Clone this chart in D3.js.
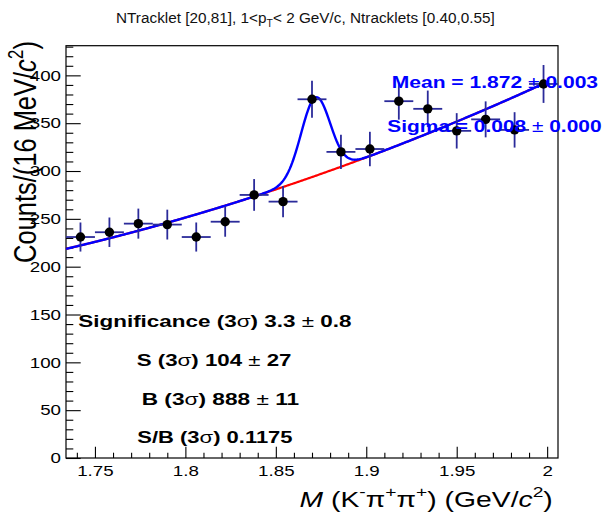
<!DOCTYPE html>
<html>
<head>
<meta charset="utf-8">
<script src="https://cdn.jsdelivr.net/npm/d3@7"></script>
<style>
  body { margin: 0; background: #fff; }
  svg { display: block; }
  text { font-family: "Liberation Sans", Arial, Helvetica, sans-serif; }
</style>
</head>
<body>
<svg id="chart" width="607" height="512"></svg>
<script>
// ---- data: invariant-mass histogram, 16 MeV bins ----
const binCenters = [1.742, 1.758, 1.774, 1.790, 1.806, 1.822, 1.838, 1.854, 1.870,
                    1.886, 1.902, 1.918, 1.934, 1.950, 1.966, 1.982, 1.998];
const counts     = [231, 236, 245, 244, 231, 247, 275, 268, 375,
                    320, 323, 373, 365, 342, 354, 343, 391];
const countErrs  = [15.2, 15.4, 15.7, 15.6, 15.2, 15.7, 16.6, 16.4, 19.4,
                    17.9, 18.0, 19.3, 19.1, 18.5, 18.8, 18.5, 19.8];
const binHalfWidth = 0.008;

// ---- fit: pol2 background + gaussian signal ----
const bgOrigin = 1.734;
const bgPars   = [218.6, 443.2, 800];      // p0 + p1*dx + p2*dx^2
const gausPars = [82, 1.872, 0.008];       // amplitude, mean, sigma
const fitRange = [1.734, 2.0];

// ---- axes ----
const xDomain = [1.734, 2.006];
const yDomain = [0, 431];
const xTickValues = [1.75, 1.8, 1.85, 1.9, 1.95, 2.0];
const xTickLabels = ["1.75", "1.8", "1.85", "1.9", "1.95", "2"];
const yTickValues = [0, 50, 100, 150, 200, 250, 300, 350, 400];

// ---- text ----
const titleParts = [
  {t: "NTracklet [20,81], 1<p"}, {t: "T", sub: true}, {t: "< 2 GeV/c, Ntracklets [0.40,0.55]"}
];
const statLines = [
  [{t: "Significance (3"}, {t: "σ", w: "normal"}, {t: ") 3.3 "}, {t: "±", w: "normal"}, {t: " 0.8"}],
  [{t: "S (3"}, {t: "σ", w: "normal"}, {t: ") 104 "}, {t: "±", w: "normal"}, {t: " 27"}],
  [{t: "B (3"}, {t: "σ", w: "normal"}, {t: ") 888 "}, {t: "±", w: "normal"}, {t: " 11"}],
  [{t: "S/B (3"}, {t: "σ", w: "normal"}, {t: ") 0.1175"}]
];
const fitLines = [
  [{t: "Mean = 1.872 "}, {t: "±", w: "normal"}, {t: " 0.003"}],
  [{t: "Sigma = 0.008 "}, {t: "±", w: "normal"}, {t: " 0.000"}]
];

const svg = d3.select("#chart");
const frame = {left: 66, right: 558, top: 45.7, bottom: 458};
const x = d3.scaleLinear().domain(xDomain).range([frame.left, frame.right]);
const y = d3.scaleLinear().domain(yDomain).range([frame.bottom, frame.top]);

function bg(m) { const d = m - bgOrigin; return bgPars[0] + bgPars[1] * d + bgPars[2] * d * d; }
function gaus(m) { const z = (m - gausPars[1]) / gausPars[2]; return gausPars[0] * Math.exp(-0.5 * z * z); }

// writes a line of text made of tspans, then stretches it horizontally to span [x0, x1]
function addText(parent, parts, o) {
  const t = parent.append("text")
    .attr("font-size", o.size)
    .attr("font-weight", o.weight || "normal")
    .attr("fill", o.color || "#000");
  let shift = 0;
  parts.forEach(p => {
    const ts = t.append("tspan").text(p.t);
    if (p.w) ts.attr("font-weight", p.w);
    if (p.i) ts.attr("font-style", "italic");
    let target = 0;
    if (p.sup) { target = -o.size * 0.42; ts.attr("font-size", o.size * 0.68); }
    if (p.sub) { target = o.size * 0.3; ts.attr("font-size", o.size * 0.68); }
    if (target !== shift) { ts.attr("dy", target - shift); shift = target; }
  });
  const bb = t.node().getBBox();
  const sx = (o.x1 - o.x0) / bb.width;
  t.attr("transform", `translate(${o.x0 - bb.x * sx},${o.y}) scale(${sx},1)`);
  return t;
}

// ---- frame ----
svg.append("rect")
  .attr("x", frame.left).attr("y", frame.top)
  .attr("width", frame.right - frame.left).attr("height", frame.bottom - frame.top)
  .attr("fill", "none").attr("stroke", "#000").attr("stroke-width", 1.2);

// ---- axes (ticks pointing into the frame) ----
const yMinor = d3.range(0, 431, 10).filter(v => v % 50 !== 0);
const xMinor = d3.range(1.74, 2.006, 0.01).filter(v => Math.abs(Math.round(v * 20) - v * 20) > 1e-6);

const gy = svg.append("g").attr("transform", `translate(${frame.left},0)`);
gy.call(d3.axisLeft(y).tickValues(yTickValues).tickSize(-14.7).tickPadding(4));
gy.append("g").call(d3.axisLeft(y).tickValues(yMinor).tickSize(-7.3).tickFormat(""));
gy.selectAll(".domain").remove();
gy.selectAll("line").attr("stroke", "#000").attr("stroke-width", 1.1);
gy.selectAll("text")
  .attr("font-family", "Liberation Sans, Arial, sans-serif")
  .attr("font-size", 15).attr("fill", "#000")
  .attr("transform", "scale(1.25,1)");

const gx = svg.append("g").attr("transform", `translate(0,${frame.bottom})`);
gx.call(d3.axisBottom(x).tickValues(xTickValues).tickSize(-11.3).tickPadding(7)
  .tickFormat((d, i) => xTickLabels[i]));
gx.append("g").call(d3.axisBottom(x).tickValues(xMinor).tickSize(-5.3).tickFormat(""));
gx.selectAll(".domain").remove();
gx.selectAll("line").attr("stroke", "#000").attr("stroke-width", 1.1);
gx.selectAll("text")
  .attr("font-family", "Liberation Sans, Arial, sans-serif")
  .attr("font-size", 15).attr("fill", "#000")
  .attr("transform", "scale(1.25,1)");

// ---- fit curves ----
const samples = d3.range(0, 401).map(i => fitRange[0] + (fitRange[1] - fitRange[0]) * i / 400);
const line = d3.line().x(d => x(d[0])).y(d => y(d[1]));
svg.append("path")
  .attr("d", line(samples.map(m => [m, bg(m)])))
  .attr("fill", "none").attr("stroke", "#ff0000").attr("stroke-width", 2.2);
svg.append("path")
  .attr("d", line(samples.map(m => [m, bg(m) + gaus(m)])))
  .attr("fill", "none").attr("stroke", "#0000ff").attr("stroke-width", 2.4);

// ---- data points with error bars ----
const pts = svg.append("g");
const errColor = "#2b2b9a";
binCenters.forEach((m, i) => {
  pts.append("line")
    .attr("x1", x(m - binHalfWidth)).attr("x2", x(m + binHalfWidth))
    .attr("y1", y(counts[i])).attr("y2", y(counts[i]))
    .attr("stroke", errColor).attr("stroke-width", 1.8);
  pts.append("line")
    .attr("x1", x(m)).attr("x2", x(m))
    .attr("y1", y(counts[i] - countErrs[i])).attr("y2", y(counts[i] + countErrs[i]))
    .attr("stroke", errColor).attr("stroke-width", 1.8);
});
pts.selectAll("circle").data(binCenters).join("circle")
  .attr("cx", d => x(d)).attr("cy", (d, i) => y(counts[i]))
  .attr("r", 4.7).attr("fill", "#000");

// ---- title ----
addText(svg, titleParts, {x0: 116, x1: 495, y: 22.5, size: 15, color: "#111"});

// ---- fit result text ----
addText(svg, fitLines[0], {x0: 391.7, x1: 598.3, y: 88.3, size: 16, weight: "bold", color: "#0000ff"});
addText(svg, fitLines[1], {x0: 387.3, x1: 601.7, y: 131.7, size: 16, weight: "bold", color: "#0000ff"});

// ---- yield summary ----
const statPos = [
  {x0: 78.3, x1: 351.7, y: 326.7},
  {x0: 136.7, x1: 291.7, y: 366},
  {x0: 141.7, x1: 299.3, y: 405},
  {x0: 137.3, x1: 292.7, y: 443.3}
];
statLines.forEach((parts, i) => addText(svg, parts, Object.assign({size: 16, weight: "bold"}, statPos[i])));

// ---- axis titles ----
addText(svg, [
  {t: "M", i: true}, {t: " (K"}, {t: "-", sup: true}, {t: "π"}, {t: "+", sup: true},
  {t: "π"}, {t: "+", sup: true}, {t: ") (GeV/"}, {t: "c", i: true}, {t: "2", sup: true}, {t: ")"}
], {x0: 299.6, x1: 553, y: 506.5, size: 21.5});

// rotated y title: fit its length along the axis, widen glyphs across it
const yTitleLen = 222;
const yTitleG = svg.append("g");
const yTitle = yTitleG.append("text").attr("font-size", 25).attr("fill", "#000");
[{t: "Counts/(16 MeV/"}, {t: "c", i: true}, {t: "2", sup: true}, {t: ")"}].forEach(p => {
  const ts = yTitle.append("tspan").text(p.t);
  if (p.i) ts.attr("font-style", "italic");
  if (p.sup) ts.attr("font-size", 17).attr("dy", -10);
  else if (p.t === ")") ts.attr("dy", 10);
});
const k = yTitleLen / yTitle.node().getBBox().width;
yTitle.attr("font-size", 25 * k);
yTitle.selectAll("tspan").filter(function () { return d3.select(this).text() === "2"; })
  .attr("font-size", 17 * k).attr("dy", -10 * k);
yTitle.selectAll("tspan").filter(function () { return d3.select(this).text() === ")"; })
  .attr("dy", 10 * k);
yTitleG.attr("transform", "translate(36,263) scale(1.25,1) rotate(-90)");
</script>
</body>
</html>
